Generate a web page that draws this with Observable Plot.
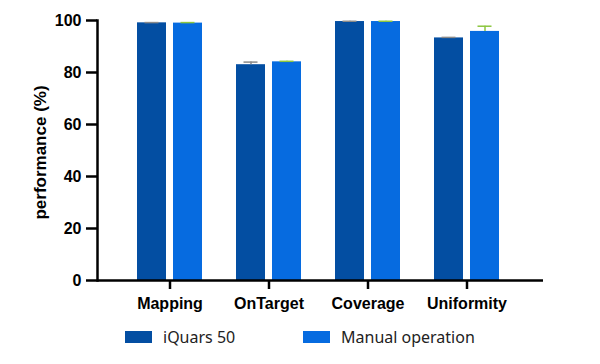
<!DOCTYPE html>
<html><head><meta charset="utf-8">
<script src="https://cdn.jsdelivr.net/npm/d3@7"></script>
<script src="https://cdn.jsdelivr.net/npm/@observablehq/plot@0.6"></script>
<style>
body{margin:0;background:#fff;}
#legend{display:flex;align-items:center;font-family:"Noto Sans",sans-serif;font-size:16px;color:#222;height:22px;margin-top:4px;}
.sw{display:inline-block;width:27px;height:12px;margin-right:11px;}
.item{display:flex;align-items:center;}
</style></head>
<body>
<div id="chart"></div>
<script>
const categories = ["Mapping", "OnTarget", "Coverage", "Uniformity"];
const seriesNames = ["iQuars 50", "Manual operation"];
const iquarsValues = [99.1, 83.0, 99.6, 93.3];
const iquarsErrors = [0.1, 1.0, 0.1, 0.2];
const manualValues = [99.0, 84.1, 99.6, 95.8];
const manualErrors = [0.2, 0.2, 0.1, 2.0];
const yTicks = [0, 20, 40, 60, 80, 100];
const yLabel = "performance (%)";

const colors = ["#034ea2", "#066be0"];
const errColors = ["#8a8a8a", "#8cc63f"];

const iq = categories.map((c, i) => ({cat: c, v: iquarsValues[i], e: iquarsErrors[i]}));
const mo = categories.map((c, i) => ({cat: c, v: manualValues[i], e: manualErrors[i]}));

const BW = 65, BAR = 29, CAP = 14;
const font = '"Liberation Sans", Arial, sans-serif';

const chart = Plot.plot({
  width: 600,
  height: 322,
  marginLeft: 97,
  marginRight: 57,
  marginTop: 20,
  marginBottom: 42,
  style: {fontFamily: font, fontSize: "16px", fontWeight: "bold", color: "#000", background: "#fff"},
  x: {domain: categories, paddingInner: 0.3467, paddingOuter: 0.4146, align: 0.476, label: null},
  y: {domain: [0, 100], ticks: yTicks, label: null},
  marks: [
    Plot.barY(iq, {x: "cat", y: "v", fill: colors[0], insetRight: BW - BAR}),
    Plot.barY(mo, {x: "cat", y: "v", fill: colors[1], insetLeft: BW - BAR}),
    Plot.ruleX(iq, {x: "cat", y1: "v", y2: d => d.v + d.e, stroke: errColors[0], strokeWidth: 1.5, dx: -(BW / 2 - BAR / 2)}),
    Plot.ruleX(mo, {x: "cat", y1: "v", y2: d => d.v + d.e, stroke: errColors[1], strokeWidth: 1.5, dx: (BW / 2 - BAR / 2)}),
    Plot.tickY(iq, {x: "cat", y: d => d.v + d.e, stroke: errColors[0], strokeWidth: 1.5,
      insetLeft: BAR / 2 - CAP / 2, insetRight: BW - BAR / 2 - CAP / 2}),
    Plot.tickY(mo, {x: "cat", y: d => d.v + d.e, stroke: errColors[1], strokeWidth: 1.5,
      insetLeft: BW - BAR / 2 - CAP / 2, insetRight: BAR / 2 - CAP / 2}),
    Plot.axisY({ticks: yTicks, tickSize: 11, tickPadding: 5, strokeWidth: 2.5, label: null, fontSize: 16}),
    Plot.axisX({tickSize: 9, tickPadding: 8, strokeWidth: 2.5, label: null, fontSize: 16}),
    Plot.ruleY([0], {stroke: "#000", strokeWidth: 2.5}),
    Plot.frame({anchor: "left", stroke: "#000", strokeWidth: 2.5}),
    Plot.text([yLabel], {frameAnchor: "left", textAnchor: "middle", rotate: -90, dx: -57, dy: 2, fontSize: 17, fontWeight: "bold", fill: "#000"})
  ]
});
document.getElementById("chart").appendChild(chart);

const legend = document.createElement("div");
legend.id = "legend";
seriesNames.forEach((name, i) => {
  const item = document.createElement("div");
  item.className = "item";
  item.style.marginLeft = i === 0 ? "125px" : "0px";
  item.style.width = i === 0 ? "178px" : "auto";
  const sw = document.createElement("span");
  sw.className = "sw";
  sw.style.background = colors[i];
  const t = document.createElement("span");
  t.textContent = name;
  item.appendChild(sw);
  item.appendChild(t);
  legend.appendChild(item);
});
document.body.appendChild(legend);
</script>
</body></html>
